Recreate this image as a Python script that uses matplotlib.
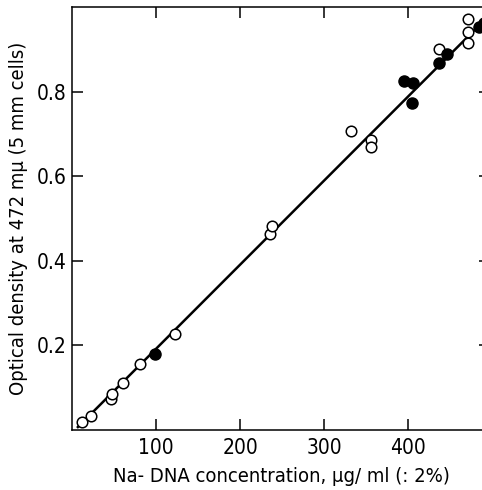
import matplotlib
matplotlib.use("Agg")
import matplotlib.pyplot as plt

# open circles
open_x = [12, 23, 47, 48, 61, 81, 123, 236, 238, 332, 356, 356, 437, 472, 472, 472]
open_y = [0.019, 0.033, 0.073, 0.085, 0.111, 0.155, 0.226, 0.463, 0.482, 0.708,
          0.686, 0.669, 0.900, 0.971, 0.940, 0.914]

# filled circles
fill_x = [99, 395, 406, 405, 437, 446, 485, 491]
fill_y = [0.180, 0.824, 0.820, 0.772, 0.867, 0.888, 0.952, 0.962]

# fitted line end points
line_x = [7, 497]
line_y = [0.007, 0.981]

xticks = [100, 200, 300, 400]
yticks = [0.2, 0.4, 0.6, 0.8]

plt.rcParams['font.family'] = ['DejaVu Sans']
plt.rcParams['font.stretch'] = 'condensed'

fig = plt.figure(figsize=(4.82, 4.90), dpi=100)
ax = fig.add_axes([72 / 482, 60 / 490, 418 / 482, 423 / 490])

ax.plot(line_x, line_y, color='black', lw=1.8, zorder=2)
ax.plot(open_x, open_y, 'o', ms=7.6, mfc='white', mec='black', mew=1.1, zorder=3)
ax.plot(fill_x, fill_y, 'o', ms=8, mfc='black', mec='black', mew=1.0, zorder=4)

ax.set_xlim(0, 497.6)
ax.set_ylim(0, 1.0)
ax.set_xticks(xticks)
ax.set_yticks(yticks)
ax.set_yticklabels(['0.2', '0.4', '0.6', '0.8'])

ax.tick_params(axis='both', direction='in', length=8, width=1.1,
               top=True, right=True, labelsize=15)
ax.tick_params(axis='x', pad=6)
ax.tick_params(axis='y', pad=4)
for s in ax.spines.values():
    s.set_linewidth(1.1)
ax.spines['right'].set_visible(False)

ax.set_xlabel("Na- DNA concentration, \u00b5g/ ml (: 2%)", fontsize=14.5,
              labelpad=6, fontstretch='condensed')
ax.set_ylabel("Optical density at 472 m\u00b5 (5 mm cells)", fontsize=14.5,
              labelpad=6, fontstretch='condensed')

fig.savefig("out.png", dpi=100)
